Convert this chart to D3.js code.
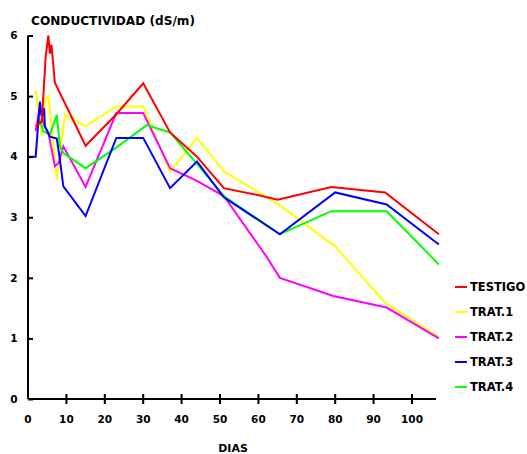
<!DOCTYPE html>
<html><head><meta charset="utf-8">
<script src="https://cdn.jsdelivr.net/npm/d3@7"></script>
<style>body{margin:0;background:#fff}svg{display:block}text{font-family:"DejaVu Sans",sans-serif;font-weight:bold;fill:#000}</style>
</head><body>
<svg id="c" width="527" height="454"></svg>
<script>
const seriesNames = ["TESTIGO","TRAT.1","TRAT.2","TRAT.3","TRAT.4"];
const seriesColors = ["#ff0000","#ffff00","#ff00ff","#0000ff","#00ff00"];

const testigoDays = [2,3.6,4.6,5.3,5.7,6.1,7,15,23,30,37,44,51,59.5,65,79,93,107];
const testigoVals = [4.5,4.58,5.65,6.0,5.7,5.85,5.22,4.18,4.7,5.21,4.4,4.0,3.48,3.37,3.29,3.5,3.41,2.72];

const trat1Days = [2,2.7,3.6,4.5,5.3,7.5,9.6,15,23,30,37,44,51,66,80,93,107];
const trat1Vals = [5.1,4.75,4.35,4.95,5.0,3.62,4.69,4.5,4.83,4.83,3.75,4.31,3.76,3.18,2.52,1.59,1.02];

const trat2Days = [2,3,4.3,5.3,7,8,9.2,15,23,30,37,44,51,62,65.6,79.5,93.4,107];
const trat2Vals = [4.42,4.8,4.5,4.4,3.84,3.9,4.17,3.5,4.72,4.72,3.81,3.6,3.35,2.36,2.0,1.7,1.51,1.0];

const trat3Days = [0,2,3.1,3.6,4.2,4.4,5.7,7.5,8.3,9.2,15,23,30,37,44,51,65.6,80,93.4,107];
const trat3Vals = [4.0,4.0,4.91,4.66,4.8,4.5,4.33,4.3,3.95,3.51,3.02,4.31,4.31,3.48,3.92,3.33,2.72,3.41,3.21,2.55];

const trat4Days = [2.5,3.1,4,5.7,7.5,8.3,9.2,15,23,30.9,37,44,51,65.6,79,93.4,107];
const trat4Vals = [4.5,4.6,4.42,4.36,4.69,4.17,4.06,3.81,4.15,4.52,4.4,3.88,3.35,2.72,3.1,3.1,2.22];

const xTicks = [0,10,20,30,40,50,60,70,80,90,100];
const yTicks = [0,1,2,3,4,5,6];

const allDays = [testigoDays,trat1Days,trat2Days,trat3Days,trat4Days];
const allVals = [testigoVals,trat1Vals,trat2Vals,trat3Vals,trat4Vals];

const svg = d3.select("#c");
const x = d3.scaleLinear().domain([0,106.25]).range([28,436]);
const y = d3.scaleLinear().domain([0,6]).range([399,35.5]);

// title
svg.append("text").attr("x",31).attr("y",25).attr("font-size",12.5)
  .attr("textLength",164).attr("lengthAdjust","spacingAndGlyphs")
  .text("CONDUCTIVIDAD (dS/m)");

// series lines
const line = d3.line().x(d=>x(d[0])).y(d=>y(d[1]));
const order = [1,2,4,3,0];
order.forEach(i=>{
  const pts = allDays[i].map((d,j)=>[d,allVals[i][j]]);
  svg.append("path").attr("d",line(pts)).attr("fill","none")
    .attr("stroke",seriesColors[i]).attr("stroke-width",2)
    .attr("stroke-linejoin","miter");
});

// y axis
const yAxis = d3.axisRight(y).tickValues(yTicks).tickSize(5).tickFormat("");
const gy = svg.append("g").attr("transform","translate(28,0)").call(yAxis);
gy.select(".domain").attr("d",`M0,${y(6)}V${y(0)}`).attr("stroke","#000").attr("stroke-width",2);
gy.selectAll(".tick line").attr("stroke","#000").attr("stroke-width",2);
yTicks.forEach(t=>{
  svg.append("text").attr("x",14).attr("y",y(t)).attr("dy","0.36em")
    .attr("text-anchor","middle").attr("font-size",10.5).text(t);
});

// x axis
const xAxis = d3.axisBottom(x).tickValues(xTicks).tickSize(0).tickFormat("");
const gx = svg.append("g").attr("transform","translate(0,399)").call(xAxis);
gx.select(".domain").attr("d",`M${x(0)},0H${x(106.25)}`).attr("stroke","#000").attr("stroke-width",2);
xTicks.forEach(t=>{
  if(t>0) svg.append("line").attr("x1",x(t)).attr("x2",x(t)).attr("y1",394).attr("y2",404)
    .attr("stroke","#000").attr("stroke-width",2);
  svg.append("text").attr("x",x(t)).attr("y",423).attr("text-anchor","middle")
    .attr("font-size",10.5).text(t);
});
svg.append("text").attr("x",233).attr("y",452).attr("text-anchor","middle")
  .attr("font-size",11).text("DIAS");

// legend
seriesNames.forEach((n,i)=>{
  const ly = 287 + i*25;
  svg.append("line").attr("x1",455).attr("x2",467).attr("y1",ly).attr("y2",ly)
    .attr("stroke",seriesColors[i]).attr("stroke-width",2);
  svg.append("text").attr("x",470).attr("y",ly).attr("dy","0.36em")
    .attr("font-size",11.5).text(n);
});
</script>
</body></html>
